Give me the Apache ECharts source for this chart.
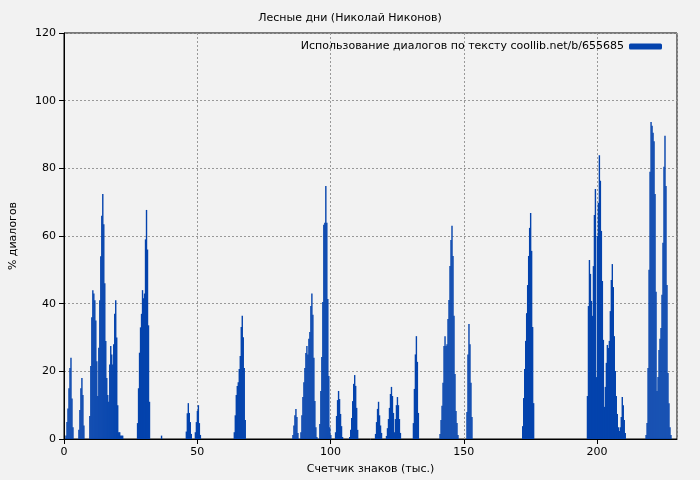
<!DOCTYPE html>
<html>
<head>
<meta charset="utf-8">
<script src="https://cdn.jsdelivr.net/npm/echarts@6/dist/echarts.min.js"></script>
<style>html,body{margin:0;padding:0;background:#f2f2f2}#main{width:700px;height:480px}</style>
</head>
<body>
<div id="main"></div>
<script>
// шаг между столбиками (тыс. знаков)
var step = 0.3734;

// начала групп столбиков
var starts = [0.75, 5.6, 9.7, 27.6, 36.6, 45.9, 49.3, 63.9, 85.9, 88.9, 96.0, 101.9, 107.2, 116.9, 121.0, 131.1, 141.1, 151.2, 172.1, 196.4, 218.4];

// значения (% диалогов) по группам
var groups = [
    [1, 5, 9, 15, 21, 24, 12, 3.5],
    [2.7, 8.6, 15, 18, 13, 4],
    [6.8, 21.6, 36, 44, 43, 41, 35, 23, 12.7, 27, 41, 54, 66, 72.4, 63.5, 46, 29, 18, 13, 11, 22, 27.5, 25, 22, 28, 37, 41, 30, 10, 2, 2, 1, 1, 1],
    [4.7, 15, 25.5, 33, 37, 44, 41.6, 43, 59, 67.7, 56, 33.6, 11],
    [1],
    [2.2, 7.6, 10.6, 7.7, 5, 1.5],
    [2, 5, 8.3, 10, 4.7, 1.2],
    [2, 7, 13, 15.7, 16.8, 20.7, 24.5, 33.1, 36.4, 30.1, 21, 5.6],
    [1.2, 4, 7, 8.9, 6.5, 1.8],
    [2, 7, 12.4, 16.8, 21, 25.4, 27.5, 25, 29.6, 31.6, 39.3, 43, 36.7, 24, 11.2, 3.5, 0.6],
    [4.4, 14.2, 24.2, 40.5, 63.3, 63.9, 74.8, 63.9, 41.4, 18.6, 3.5, 1.2],
    [2, 6.8, 11.5, 14.2, 11.8, 7.4, 3.8, 0.6],
    [0.6, 2.7, 6.2, 11.2, 16.3, 18.9, 15.7, 9.2, 2.7],
    [1.5, 5, 8.9, 11, 7, 4, 1.8],
    [0.9, 3.2, 5.9, 9.2, 13.3, 15.4, 12.7, 7.7, 2, 5.9, 10, 12.4, 10, 5.9, 1.8],
    [4.7, 14.8, 25, 30.4, 22.8, 7.7],
    [1.5, 5.6, 9.8, 16.6, 27.5, 30.4, 27.5, 28, 35.5, 41.1, 51.1, 58.8, 63, 54.1, 36.4, 19.2, 8.3, 4.7, 1.2],
    [8, 25, 34, 28, 16.6, 6.5],
    [3.8, 12.1, 20.7, 29, 37.2, 45.5, 54.1, 62.4, 66.8, 55.6, 33.1, 10.6],
    [12.7, 39.3, 52.9, 48.8, 40.8, 36.4, 51.1, 66.2, 73.9, 18.3, 60, 69.8, 83.9, 76.3, 61.5, 46.7, 29.3, 9.5, 15.4, 22.5, 27.8, 26.9, 29, 37.8, 47, 51.7, 44.9, 30.4, 20.1, 12.7, 7.4, 3.5, 2.4, 3.5, 6.5, 12.4, 10, 5.6, 1.8],
    [1.2, 4.7, 21, 50, 79, 93.7, 92.6, 90.5, 88, 72.4, 43.5, 14.2, 18.3, 26.3, 29.6, 32.8, 42.6, 58, 80.5, 89.6, 74.8, 45.5, 19.5, 10.6, 3.5, 1.2]
];

var points = [];
for (var g = 0; g < groups.length; g++) {
    for (var i = 0; i < groups[g].length; i++) {
        points.push([starts[g] + i * step, groups[g][i]]);
    }
}

var myChart = echarts.init(document.getElementById('main'));

var gridLine = {show: true, lineStyle: {color: '#999', type: [2, 2], width: 1}};

var option = {
    backgroundColor: '#f2f2f2',
    textStyle: {fontFamily: 'DejaVu Sans'},
    animation: false,
    title: {
        text: 'Лесные дни (Николай Никонов)',
        left: 'center',
        top: 8,
        textStyle: {fontSize: 11, fontWeight: 'normal', color: '#000'}
    },
    legend: {
        top: 36,
        right: 33,
        align: 'right',
        itemWidth: 33,
        itemHeight: 6,
        itemGap: 8,
        textStyle: {fontSize: 11, color: '#000'},
        data: ['Использование диалогов по тексту coollib.net/b/655685']
    },
    grid: {left: 61, right: 23, top: 33, bottom: 41, show: true, borderColor: '#000', borderWidth: 1, backgroundColor: 'transparent'},
    xAxis: {
        type: 'value',
        min: 0, max: 230, interval: 50,
        name: 'Счетчик знаков (тыс.)',
        nameLocation: 'middle',
        nameGap: 25,
        nameTextStyle: {fontSize: 11, color: '#000'},
        axisLine: {lineStyle: {color: '#000'}},
        axisTick: {lineStyle: {color: '#000'}},
        axisLabel: {fontSize: 11, color: '#000', showMaxLabel: false},
        splitLine: gridLine
    },
    yAxis: {
        type: 'value',
        min: 0, max: 120, interval: 20,
        name: '% диалогов',
        nameLocation: 'middle',
        nameGap: 45,
        nameTextStyle: {fontSize: 11, color: '#000'},
        axisLine: {show: true, lineStyle: {color: '#000'}},
        axisTick: {show: true, lineStyle: {color: '#000'}},
        axisLabel: {fontSize: 11, color: '#000'},
        splitLine: gridLine
    },
    series: [{
        name: 'Использование диалогов по тексту coollib.net/b/655685',
        type: 'bar',
        barWidth: 1.4,
        barGap: '-100%',
        itemStyle: {color: '#0443ad'},
        data: points
    }]
};
myChart.setOption(option);
</script>
</body>
</html>
